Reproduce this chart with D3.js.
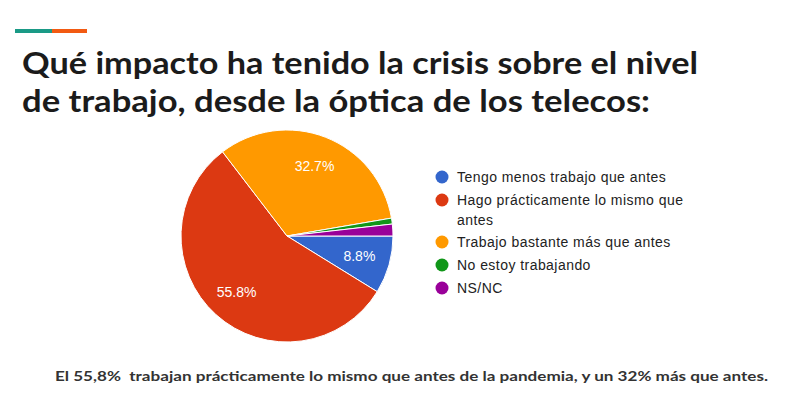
<!DOCTYPE html>
<html><head><meta charset="utf-8">
<script src="https://cdn.jsdelivr.net/npm/d3@7"></script>
<style>body{margin:0;background:#fff}</style>
</head><body>
<svg id="c" width="800" height="420"></svg>
<script>
const categories = ["Tengo menos trabajo que antes","Hago prácticamente lo mismo que antes","Trabajo bastante más que antes","No estoy trabajando","NS/NC"];
const legendLines = [["Tengo menos trabajo que antes"],["Hago prácticamente lo mismo que","antes"],["Trabajo bastante más que antes"],["No estoy trabajando"],["NS/NC"]];
const values = [8.8, 55.8, 32.7, 0.9, 1.8];
const colors = ["#3366cc","#dc3912","#ff9900","#109618","#990099"];
const titleLines = ["Qué impacto ha tenido la crisis sobre el nivel","de trabajo, desde la óptica de los telecos:"];
const footer = "El 55,8%  trabajan prácticamente lo mismo que antes de la pandemia, y un 32% más que antes.";

const svg = d3.select("#c");
svg.append("rect").attr("x",15).attr("y",29).attr("width",37).attr("height",4).attr("fill","#1a9a86");
svg.append("rect").attr("x",52).attr("y",29).attr("width",35).attr("height",4).attr("fill","#f25a12");

const tw=[676,628];
titleLines.forEach((t,i)=>{
  svg.append("text").attr("x",22).attr("y",74+i*38).text(t)
    .attr("font-family","Lato, 'Open Sans', sans-serif").attr("font-weight","bold")
    .attr("font-size",31).attr("fill","#1b1b1b")
    .attr("textLength",tw[i]).attr("lengthAdjust","spacingAndGlyphs");
});

const cx=287, cy=236, r=106;
const pie = d3.pie().sort(null).startAngle(Math.PI/2).endAngle(Math.PI/2+2*Math.PI)(values);
const arc = d3.arc().innerRadius(0).outerRadius(r);
const g = svg.append("g").attr("transform",`translate(${cx},${cy})`);
g.selectAll("path").data(pie).join("path").attr("d",arc)
  .attr("fill",(d,i)=>colors[i]).attr("stroke","#fff").attr("stroke-width",1);
const labelArc = d3.arc().innerRadius(r*0.71).outerRadius(r*0.71);
g.selectAll("text").data(pie.filter(d=>d.data>5)).join("text")
  .attr("transform",d=>`translate(${labelArc.centroid(d)})`)
  .attr("text-anchor","middle").attr("dy","0.35em")
  .attr("font-family","Liberation Sans, Arial, sans-serif").attr("font-size",14).attr("fill","#fff")
  .text(d=>d.data.toFixed(1)+"%");

const ly=[177,200,242,265,288];
const lg = svg.append("g");
legendLines.forEach((lines,i)=>{
  lg.append("circle").attr("cx",442).attr("cy",ly[i]).attr("r",6.5).attr("fill",colors[i]);
  lines.forEach((l,j)=>{
    lg.append("text").attr("x",457).attr("y",ly[i]+5+j*20).text(l)
      .attr("font-family","Liberation Sans, Arial, sans-serif").attr("font-size",14)
      .attr("letter-spacing",0.45).attr("fill","#222");
  });
});

svg.append("text").attr("x",55).attr("y",381).text(footer)
  .style("white-space","pre")
  .attr("font-family","Lato, 'Open Sans', sans-serif").attr("font-weight","bold")
  .attr("font-size",14).attr("fill","#333")
  .attr("textLength",713).attr("lengthAdjust","spacingAndGlyphs");
</script>
</body></html>
